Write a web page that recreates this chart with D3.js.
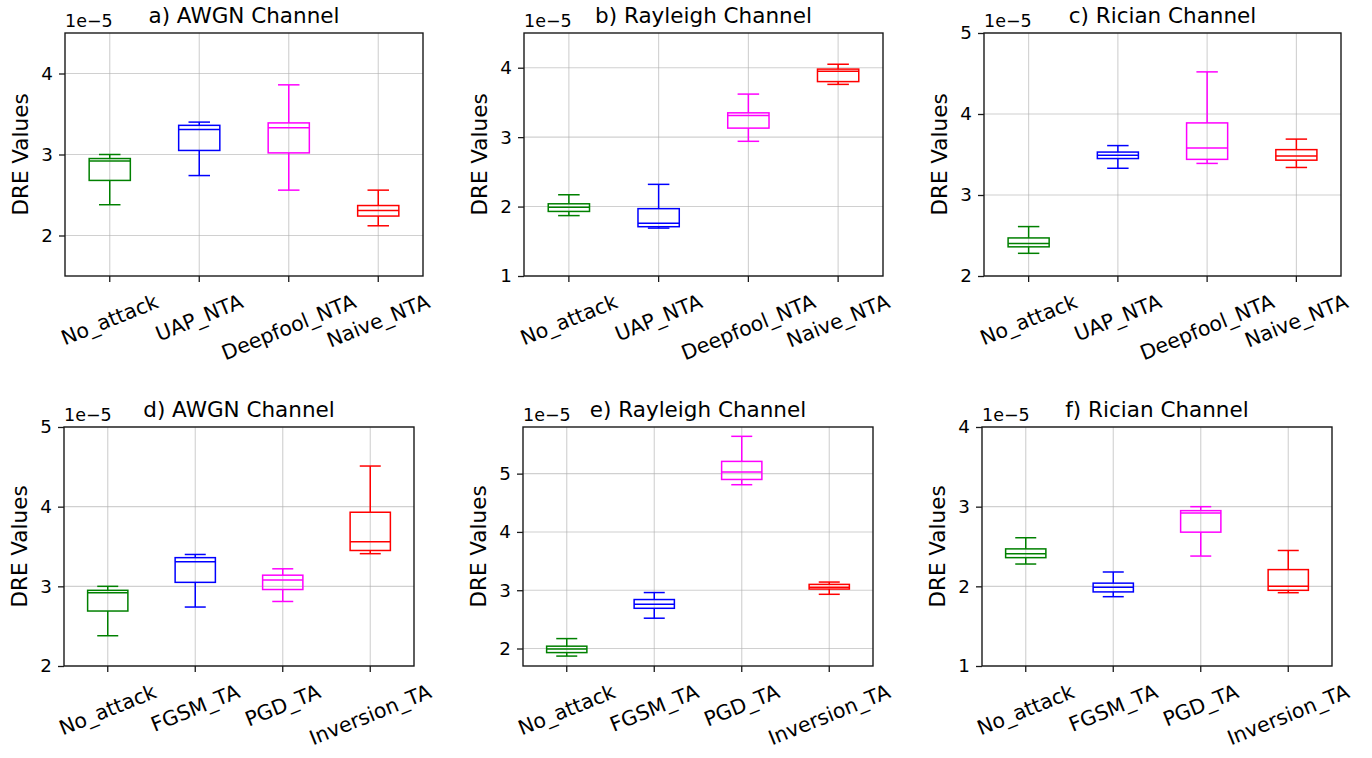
<!DOCTYPE html>
<html>
<head>
<meta charset="utf-8">
<script src="https://cdn.jsdelivr.net/npm/d3@7"></script>
<style>
  body { margin: 0; background: #fff; }
  svg { display: block; font-family: "DejaVu Sans", sans-serif; }
</style>
</head>
<body>
<svg id="chart" width="1372" height="758"></svg>
<script>
// values are in units of 1e-5, each box: [whiskerLow, q1, median, q3, whiskerHigh]
const categoriesNTA = ["No_attack", "UAP_NTA", "Deepfool_NTA", "Naive_NTA"];
const categoriesTA = ["No_attack", "FGSM_TA", "PGD_TA", "Inversion_TA"];
const titles = ["a) AWGN Channel", "b) Rayleigh Channel", "c) Rician Channel",
                "d) AWGN Channel", "e) Rayleigh Channel", "f) Rician Channel"];

const awgnNTA = [
    [2.38, 2.68, 2.92, 2.95, 3.00],
    [2.74, 3.05, 3.31, 3.36, 3.40],
    [2.56, 3.02, 3.33, 3.39, 3.86],
    [2.12, 2.24, 2.31, 2.37, 2.56]
];
const rayleighNTA = [
    [1.87, 1.93, 1.99, 2.04, 2.17],
    [1.69, 1.71, 1.76, 1.97, 2.32],
    [2.94, 3.13, 3.31, 3.35, 3.62],
    [3.76, 3.80, 3.95, 3.98, 4.05]
];
const ricianNTA = [
    [2.28, 2.36, 2.40, 2.47, 2.61],
    [3.33, 3.45, 3.49, 3.53, 3.61],
    [3.39, 3.44, 3.58, 3.89, 4.52],
    [3.34, 3.43, 3.48, 3.56, 3.69]
];
const awgnTA = [
    [2.38, 2.69, 2.92, 2.95, 3.00],
    [2.74, 3.05, 3.31, 3.36, 3.40],
    [2.81, 2.96, 3.08, 3.14, 3.22],
    [3.41, 3.45, 3.56, 3.93, 4.51]
];
const rayleighTA = [
    [1.87, 1.93, 1.99, 2.04, 2.17],
    [2.52, 2.69, 2.76, 2.84, 2.96],
    [4.81, 4.90, 5.03, 5.21, 5.64],
    [2.93, 3.02, 3.05, 3.10, 3.14]
];
const ricianTA = [
    [2.28, 2.36, 2.41, 2.47, 2.61],
    [1.87, 1.93, 1.99, 2.04, 2.18],
    [2.38, 2.68, 2.92, 2.95, 3.00],
    [1.92, 1.95, 2.00, 2.21, 2.45]
];

const yDomains = [[1.5, 4.5], [1, 4.5], [2, 5], [2, 5], [1.7, 5.8], [1, 4]];
const yTicks = [[2, 3, 4], [1, 2, 3, 4], [2, 3, 4, 5], [2, 3, 4, 5], [2, 3, 4, 5], [1, 2, 3, 4]];
const boxColors = ["green", "blue", "magenta", "red"];

// axes rectangles
const rects = [
    {l: 65, r: 423, t: 33, b: 276},
    {l: 524, r: 883, t: 33, b: 276},
    {l: 984, r: 1341, t: 33, b: 276},
    {l: 64, r: 414, t: 427, b: 666},
    {l: 523, r: 873, t: 427, b: 666},
    {l: 982, r: 1332, t: 427, b: 666}
];

const panels = [
    {cats: categoriesNTA, stats: awgnNTA},
    {cats: categoriesNTA, stats: rayleighNTA},
    {cats: categoriesNTA, stats: ricianNTA},
    {cats: categoriesTA, stats: awgnTA},
    {cats: categoriesTA, stats: rayleighTA},
    {cats: categoriesTA, stats: ricianTA}
];

const svg = d3.select("#chart");
const yTickFont = 18.3;
const xTickFont = 20.5;
const offsetFont = 17.5;
const labelFont = 21.5;
const angle = 22;
const rot = angle * Math.PI / 180;

panels.forEach((p, k) => {
    const rc = rects[k];
    const x = d3.scaleBand().domain(p.cats).range([rc.l, rc.r]);
    const y = d3.scaleLinear().domain(yDomains[k]).range([rc.b, rc.t]);
    const bw = x.bandwidth();
    const cx = c => x(c) + bw / 2;

    const g = svg.append("g");

    // grid
    g.selectAll("line.gx").data(p.cats).enter().append("line")
        .attr("x1", cx).attr("x2", cx)
        .attr("y1", rc.t).attr("y2", rc.b)
        .attr("stroke", "#b0b0b0").attr("stroke-opacity", 0.6).attr("stroke-width", 1.1);
    g.selectAll("line.gy").data(yTicks[k]).enter().append("line")
        .attr("x1", rc.l).attr("x2", rc.r)
        .attr("y1", d => y(d)).attr("y2", d => y(d))
        .attr("stroke", "#b0b0b0").attr("stroke-opacity", 0.6).attr("stroke-width", 1.1);

    // boxes
    const boxW = bw * 0.46, capW = bw * 0.24;
    const bx = g.selectAll("g.box").data(p.stats).enter().append("g")
        .attr("stroke", (d, i) => boxColors[i])
        .attr("stroke-width", 1.5)
        .attr("fill", "none");
    bx.append("line")
        .attr("x1", (d, i) => cx(p.cats[i])).attr("x2", (d, i) => cx(p.cats[i]))
        .attr("y1", d => y(d[0])).attr("y2", d => y(d[1]));
    bx.append("line")
        .attr("x1", (d, i) => cx(p.cats[i])).attr("x2", (d, i) => cx(p.cats[i]))
        .attr("y1", d => y(d[3])).attr("y2", d => y(d[4]));
    bx.append("line")
        .attr("x1", (d, i) => cx(p.cats[i]) - capW / 2).attr("x2", (d, i) => cx(p.cats[i]) + capW / 2)
        .attr("y1", d => y(d[0])).attr("y2", d => y(d[0]));
    bx.append("line")
        .attr("x1", (d, i) => cx(p.cats[i]) - capW / 2).attr("x2", (d, i) => cx(p.cats[i]) + capW / 2)
        .attr("y1", d => y(d[4])).attr("y2", d => y(d[4]));
    bx.append("rect")
        .attr("x", (d, i) => cx(p.cats[i]) - boxW / 2)
        .attr("width", boxW)
        .attr("y", d => y(d[3]))
        .attr("height", d => y(d[1]) - y(d[3]));
    bx.append("line")
        .attr("x1", (d, i) => cx(p.cats[i]) - boxW / 2).attr("x2", (d, i) => cx(p.cats[i]) + boxW / 2)
        .attr("y1", d => y(d[2])).attr("y2", d => y(d[2]));

    // spines
    g.append("rect")
        .attr("x", rc.l).attr("y", rc.t)
        .attr("width", rc.r - rc.l).attr("height", rc.b - rc.t)
        .attr("fill", "none").attr("stroke", "#1a1a1a").attr("stroke-width", 1.4);

    // y axis
    const ya = g.append("g")
        .attr("transform", `translate(${rc.l},0)`)
        .call(d3.axisLeft(y).tickValues(yTicks[k]).tickFormat(d3.format("d")).tickSize(6).tickPadding(6));
    ya.select(".domain").remove();
    ya.selectAll(".tick line").attr("stroke", "#1a1a1a").attr("stroke-width", 1.3);
    ya.selectAll(".tick text").attr("font-size", yTickFont).attr("fill", "#000")
        .attr("font-family", "DejaVu Sans");

    // x axis ticks
    const xa = g.append("g")
        .attr("transform", `translate(0,${rc.b})`)
        .call(d3.axisBottom(x).tickSize(6).tickFormat(""));
    xa.select(".domain").remove();
    xa.selectAll(".tick line").attr("stroke", "#1a1a1a").attr("stroke-width", 1.3);

    // rotated x labels, bounding box centred under the tick
    p.cats.forEach(c => {
        const t = g.append("text")
            .attr("font-size", xTickFont)
            .attr("text-anchor", "middle")
            .attr("dominant-baseline", "central")
            .text(c);
        const w = t.node().getComputedTextLength();
        const h = xTickFont * 1.0;
        const cy = rc.b + 15 + (w * Math.sin(rot) + h * Math.cos(rot)) / 2;
        t.attr("transform", `translate(${cx(c)},${cy}) rotate(${-angle})`);
    });

    // offset text
    g.append("text")
        .attr("x", rc.l).attr("y", rc.t - 6)
        .attr("font-size", offsetFont)
        .text("1e\u22125");

    // title
    g.append("text")
        .attr("x", (rc.l + rc.r) / 2).attr("y", rc.t - 10)
        .attr("text-anchor", "middle")
        .attr("font-size", labelFont)
        .text(titles[k]);

    // y label
    g.append("text")
        .attr("transform", `translate(${rc.l - 37},${(rc.t + rc.b) / 2}) rotate(-90)`)
        .attr("text-anchor", "middle")
        .attr("font-size", labelFont)
        .text("DRE Values");
});
</script>
</body>
</html>
